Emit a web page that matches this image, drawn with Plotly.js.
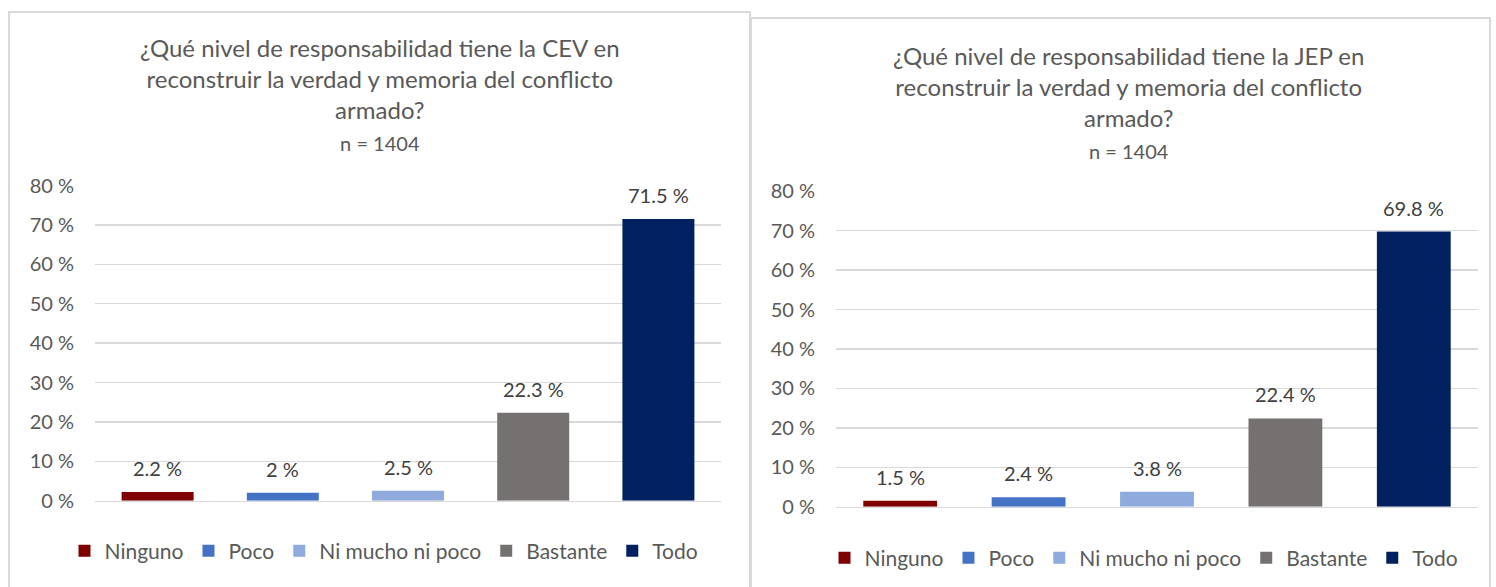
<!DOCTYPE html>
<html>
<head>
<meta charset="utf-8">
<script src="https://cdn.plot.ly/plotly-3.0.1.min.js"></script>
<style>
  html, body { margin: 0; padding: 0; background: #fff; }
  #chart { width: 1496px; height: 587px; }
</style>
</head>
<body>
<div id="chart"></div>
<script>
// ================= DATA =================
const categories = ["Ninguno", "Poco", "Ni mucho ni poco", "Bastante", "Todo"];
const cevValues = [2.2, 2, 2.5, 22.3, 71.5];
const jepValues = [1.5, 2.4, 3.8, 22.4, 69.8];
const tickValues = [0, 10, 20, 30, 40, 50, 60, 70, 80];
const tickLabels = ["0 %", "10 %", "20 %", "30 %", "40 %", "50 %", "60 %", "70 %", "80 %"];
const barColors = ["#7f0000", "#4472c4", "#8faadc", "#767171", "#002060"];

const titleCEV = "¿Qué nivel de responsabilidad tiene la CEV en<br>reconstruir la verdad y memoria del conflicto<br>armado?<br><span style='font-size:20px'>n = 1404</span>";
const titleJEP = "¿Qué nivel de responsabilidad tiene la JEP en<br>reconstruir la verdad y memoria del conflicto<br>armado?<br><span style='font-size:20px'>n = 1404</span>";

const W = 1496, H = 587;
const FONT = "Lato, 'Open Sans', sans-serif";

// helpers: pixel -> paper
function px(x) { return x / W; }
function py(y) { return 1 - y / H; }

// ================= TRACES =================
let traces = [];
function addSeries(values, xa, ya, legendId) {
    for (let i = 0; i < categories.length; i++) {
        traces.push({
            type: 'bar', x: [categories[i]], y: [values[i]], name: categories[i],
            xaxis: xa, yaxis: ya, legend: legendId, width: 0.575,
            marker: { color: barColors[i] }, hoverinfo: 'x+y'
        });
    }
}
addSeries(cevValues, 'x', 'y', 'legend');
addSeries(jepValues, 'x2', 'y2', 'legend2');

// data labels above bars
let annotations = [];
function addLabels(values, xa, ya) {
    for (let i = 0; i < categories.length; i++) {
        annotations.push({
            x: categories[i], y: values[i], xref: xa, yref: ya,
            text: values[i] + " %", showarrow: false, yanchor: 'bottom', yshift: 10,
            font: { family: FONT, size: 20, color: "#404040" }
        });
    }
}
addLabels(cevValues, 'x', 'y');
addLabels(jepValues, 'x2', 'y2');

// chart titles
annotations.push({
    x: px(380), y: py(31), xref: 'paper', yref: 'paper', xanchor: 'center', yanchor: 'top',
    text: titleCEV, showarrow: false, align: 'center',
    font: { family: FONT, size: 24, color: "#595959" }
});
annotations.push({
    x: px(1128), y: py(39), xref: 'paper', yref: 'paper', xanchor: 'center', yanchor: 'top',
    text: titleJEP, showarrow: false, align: 'center',
    font: { family: FONT, size: 24, color: "#595959" }
});

const yAxisBase = {
    range: [0, 80], tickvals: tickValues, ticktext: tickLabels,
    showgrid: true, gridcolor: "#d9d9d9", gridwidth: 1.5,
    zeroline: false, showline: false, ticks: '', ticklabelstandoff: 20,
    tickfont: { family: FONT, size: 20, color: "#595959" }, fixedrange: true
};
const xAxisBase = {
    type: 'category', categoryorder: 'array', categoryarray: categories,
    showticklabels: false, showgrid: false, zeroline: false,
    showline: true, linecolor: "#d9d9d9", linewidth: 1.5, ticks: '', fixedrange: true
};

const legendBase = {
    orientation: 'h', xref: 'paper', yref: 'paper', xanchor: 'center', yanchor: 'middle',
    font: { family: FONT, size: 21, color: "#595959" }, bgcolor: 'rgba(0,0,0,0)',
    itemwidth: 30, tracegroupgap: 0
};

const layout = {
    width: W, height: H,
    margin: { l: 0, r: 0, t: 0, b: 0 },
    paper_bgcolor: "#ffffff", plot_bgcolor: "rgba(0,0,0,0)",
    barmode: 'overlay', showlegend: true,
    xaxis: Object.assign({}, xAxisBase, { domain: [px(95), px(721)], anchor: 'y' }),
    yaxis: Object.assign({}, yAxisBase, { domain: [py(500.7), py(185.5)], anchor: 'x' }),
    xaxis2: Object.assign({}, xAxisBase, { domain: [px(836), px(1478)], anchor: 'y2' }),
    yaxis2: Object.assign({}, yAxisBase, { domain: [py(506.7), py(191.3)], anchor: 'x2' }),
    legend: Object.assign({}, legendBase, { x: px(384), y: py(551) }),
    legend2: Object.assign({}, legendBase, { x: px(1144), y: py(558) }),
    annotations: annotations,
    shapes: [
        { type: 'rect', xref: 'paper', yref: 'paper', x0: px(9), x1: px(750), y0: py(600), y1: py(12),
          line: { color: "#d9d9d9", width: 2 } },
        { type: 'rect', xref: 'paper', yref: 'paper', x0: px(751), x1: px(1490), y0: py(600), y1: py(18),
          line: { color: "#d9d9d9", width: 2 } }
    ]
};

Plotly.newPlot('chart', traces, layout, { displayModeBar: false, staticPlot: true });
</script>
</body>
</html>
